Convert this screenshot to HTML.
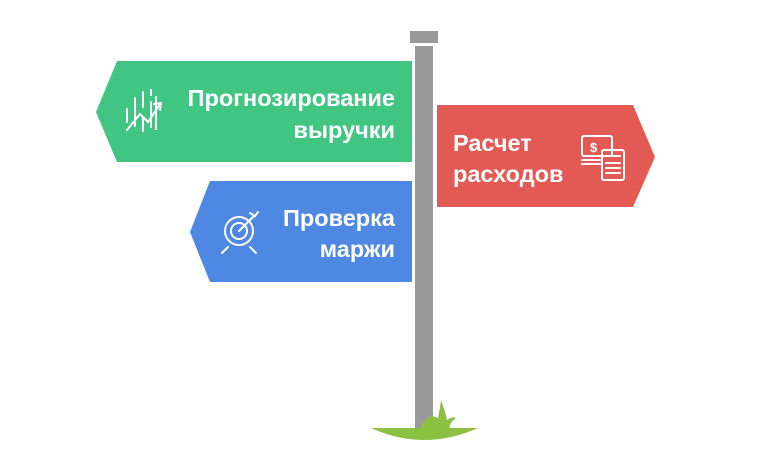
<!DOCTYPE html>
<html><head><meta charset="utf-8"><style>
body{margin:0;width:769px;height:475px;background:#fff;overflow:hidden}
svg{position:absolute;left:0;top:0}
text{font-family:"Liberation Sans",sans-serif;font-weight:bold;font-size:23.5px;fill:#fff}
</style></head><body>
<svg width="769" height="475" viewBox="0 0 769 475">
<rect x="410" y="31" width="28" height="12" fill="#999"/>
<rect x="415" y="46" width="18" height="382" fill="#999"/>
<polygon points="117,61 412,61 412,162 117,162 96,112" fill="#40c682"/>
<polygon points="437,105 633,105 655,157 633,207 437,207" fill="#e35a55"/>
<polygon points="210,181 412,181 412,282 210,282 190,232" fill="#4f88e2"/>
<path d="M371,428 Q424,452 478,428 Z" fill="#8cc043"/>
<path d="M420,428 Q428,412 438,418 Q440,408 441,400 Q446,414 447,420 Q452,416 456,418 Q448,424 450,430 Z" fill="#8cc043"/>
<text x="395" y="106" text-anchor="end">Прогнозирование</text>
<text x="395" y="138" text-anchor="end">выручки</text>
<text x="453" y="151">Расчет</text>
<text x="453" y="182">расходов</text>
<text x="395" y="226" text-anchor="end">Проверка</text>
<text x="395" y="257" text-anchor="end">маржи</text>
<g stroke="#fff" stroke-width="2" fill="none" stroke-linecap="round">
<path d="M127,130 L140,114 L148,122 L160,104 M154,104 L161,103 L160,110"/>
<path d="M127,109 V122 M135,98 V126 M143,92 V107 M143,118 V131 M151,102 V127 M151,90 V95 M156,97 V129"/>
<circle cx="239" cy="231" r="14"/><circle cx="239" cy="231" r="8"/>
<path d="M239,231 L254,216 M250,213 L255,216 L258,212 M228,247 L222,253 M250,247 L256,253"/>
<rect x="582" y="136" width="30" height="20" rx="2"/>
<path d="M582,160 H600 M582,164 H600"/>
<rect x="602" y="150" width="22" height="30" rx="2"/>
<path d="M606,156 H620 M606,163 H620 M606,168 H620 M606,173 H620"/>
</g>
<text x="590" y="152" style="font-size:13px">$</text>
</svg>
</body></html>
